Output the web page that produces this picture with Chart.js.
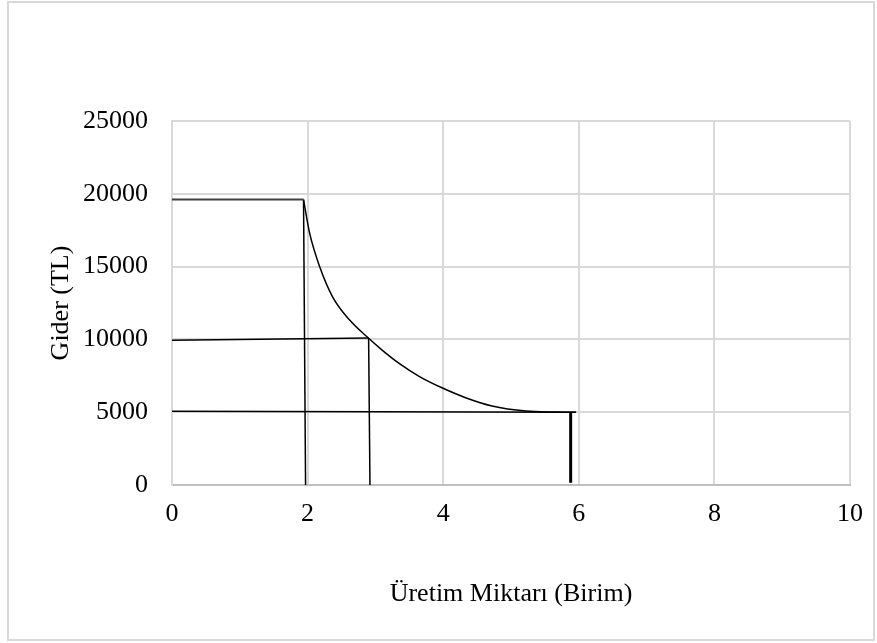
<!DOCTYPE html>
<html lang="tr">
<head>
<meta charset="UTF-8">
<title>Gider - Üretim Miktarı</title>
<script src="https://cdn.jsdelivr.net/npm/chart.js"></script>
<style>
  body { margin: 0; background: #fff; }
  #wrap { width: 877px; height: 643px; }
</style>
</head>
<body>
<div id="wrap"><canvas id="myChart" width="877" height="643"></canvas></div>
<script>
// values
const xTicks = [0, 2, 4, 6, 8, 10];
const yTicks = [0, 5000, 10000, 15000, 20000, 25000];

const topLine = [[0, 19600], [1.94, 19600]];
const drop2 = [[1.94, 19600], [1.97, 0]];
const midLine = [[0, 9950], [2.9, 10100]];
const drop3 = [[2.9, 10100], [2.92, 0]];
const lowLine = [[0, 5070], [5.96, 4990]];
const drop6 = [[5.88, 4990], [5.88, 150]];

const curveX = [1.94, 2.03, 2.18, 2.37, 2.62, 2.88, 3.09, 3.35, 3.65, 3.99, 4.34, 4.72, 5.22, 5.66, 5.96];
const curveY = [19600, 17300, 14970, 12910, 11330, 10160, 9300, 8350, 7450, 6660, 5980, 5430, 5080, 5010, 4990];

const toPts = arr => arr.map(p => ({ x: p[0], y: p[1] }));
const curve = curveX.map((x, i) => ({ x: x, y: curveY[i] }));

function seg(data, color, width) {
  return { data: toPts(data), borderColor: color, borderWidth: width, showLine: true, pointRadius: 0, tension: 0 };
}

const font = { family: "'Liberation Serif', 'Times New Roman', serif", size: 26 };

// thin frame round the whole picture
const frame = {
  id: 'frame',
  beforeDraw(chart) {
    const c = chart.ctx;
    c.save();
    c.strokeStyle = '#d9d9d9';
    c.lineWidth = 2;
    c.strokeRect(8, 2, 866, 638);
    c.restore();
  }
};

new Chart(document.getElementById('myChart'), {
  type: 'scatter',
  data: {
    datasets: [
      seg(topLine, '#404040', 2),
      seg(drop2, '#000', 1.5),
      { data: curve, borderColor: '#000', borderWidth: 1.5, showLine: true, pointRadius: 0, cubicInterpolationMode: 'monotone' },
      seg(midLine, '#000', 1.5),
      seg(drop3, '#000', 1.5),
      seg(lowLine, '#000', 1.5),
      seg(drop6, '#000', 3)
    ]
  },
  plugins: [frame],
  options: {
    responsive: false,
    animation: false,
    layout: { padding: { left: 4, top: 121, right: 25, bottom: 10 } },
    plugins: { legend: { display: false }, tooltip: { enabled: false } },
    scales: {
      x: {
        type: 'linear', min: 0, max: 10,
        afterBuildTicks: s => { s.ticks = xTicks.map(v => ({ value: v })); },
        afterFit: s => { s.height = 148; },
        grid: { color: '#d9d9d9', lineWidth: 2, drawTicks: false },
        border: { color: '#bfbfbf', width: 2 },
        ticks: { color: '#000', font: font, padding: 14, maxRotation: 0 },
        title: { display: true, text: 'Üretim Miktarı (Birim)', color: '#000', font: font, padding: { top: 0, bottom: 23 } }
      },
      y: {
        type: 'linear', min: 0, max: 25000,
        afterBuildTicks: s => { s.ticks = yTicks.map(v => ({ value: v })); },
        afterFit: s => { s.width = 168; },
        grid: { color: '#d9d9d9', lineWidth: 2, drawTicks: false },
        border: { color: '#d9d9d9', width: 2 },
        ticks: { color: '#000', font: font, padding: 24, callback: v => String(v) },
        title: { display: true, text: 'Gider (TL)', color: '#000', font: font, padding: { top: 42, bottom: 0 } }
      }
    }
  }
});
</script>
</body>
</html>
